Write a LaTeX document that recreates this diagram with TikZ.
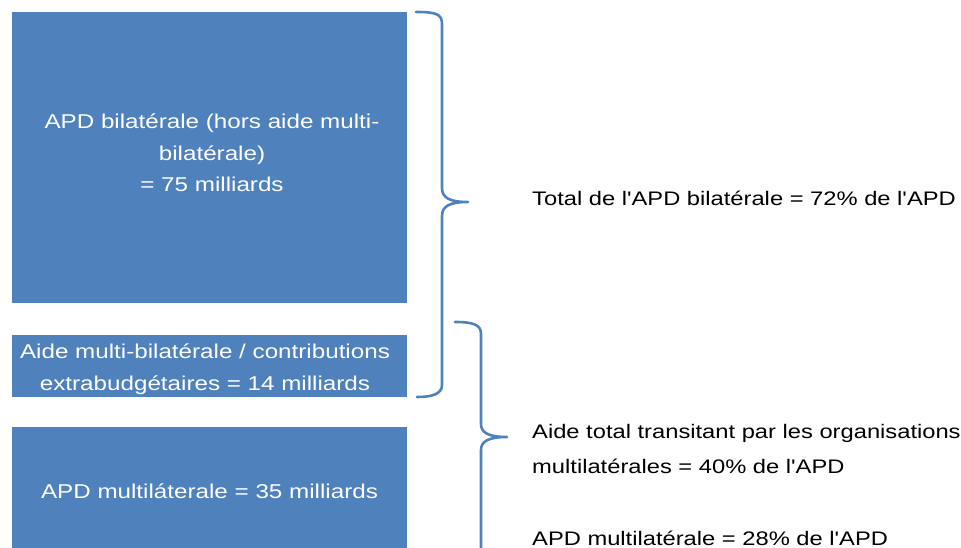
\documentclass[tikz,border=0pt]{standalone}
\usepackage{fontspec}
\setmainfont{Liberation Sans}[FakeStretch=1.21,Ligatures=TeXOff]
\definecolor{boxblue}{HTML}{4F81BD}
\begin{document}
\begin{tikzpicture}[x=1pt,y=-1pt,
  txt/.style={font=\fontsize{19.6}{31.5}\selectfont,inner sep=0pt},
  bluebox/.style={fill=boxblue,draw=none,inner sep=0pt},
  boxtext/.style={txt,font=\fontsize{20}{31.5}\selectfont,text=white,align=center,anchor=base},
  sidetext/.style={txt,anchor=base west,align=left},
  bracel/.style={draw=boxblue,line width=2.6pt,line cap=round,line join=round}]
\useasboundingbox (0,0) rectangle (961,548);
\node[bluebox,minimum width=395pt,minimum height=291pt] (b1) at (209.5,157.5) {};
\node[bluebox,minimum width=395pt,minimum height=62pt] (b2) at (209.5,366) {};
\node[bluebox,minimum width=395pt,minimum height=140pt,anchor=north] (b3) at (209.5,427) {};
\node[boxtext] (b1t) at (212,192) {APD bilatérale (hors aide multi-\\bilatérale)\\= 75 milliards};
\node[boxtext] (b2t) at (205,390) {Aide multi-bilatérale / contributions\\extrabudgétaires = 14 milliards};
\node[boxtext] (b3t) at (209.5,498) {APD multiláterale = 35 milliards};
\node[sidetext] (t1) at (532,206) {Total de l'APD bilatérale = 72\% de l'APD};
\node[sidetext,font=\fontsize{19.6}{34.5}\selectfont] (t2) at (532,473) {Aide total transitant par les organisations\\multilatérales = 40\% de l'APD};
\node[sidetext] (t3) at (532,545) {APD multilatérale = 28\% de l'APD};
% brace 1
\draw[bracel] (416,12) .. controls (436,12) and (442,14) .. (442,24) -- (442,188)
  .. controls (442,198) and (450,202) .. (468,202)
  .. controls (450,202) and (442,206) .. (442,216) -- (442,385)
  .. controls (442,394) and (432,397) .. (417,397);
% brace 2
\draw[bracel] (455,322) .. controls (474,322) and (481,325) .. (481,334) -- (481,424)
  .. controls (481,433) and (489,437) .. (507,437)
  .. controls (489,437) and (481,441) .. (481,450) -- (481,560);
\end{tikzpicture}
\end{document}
